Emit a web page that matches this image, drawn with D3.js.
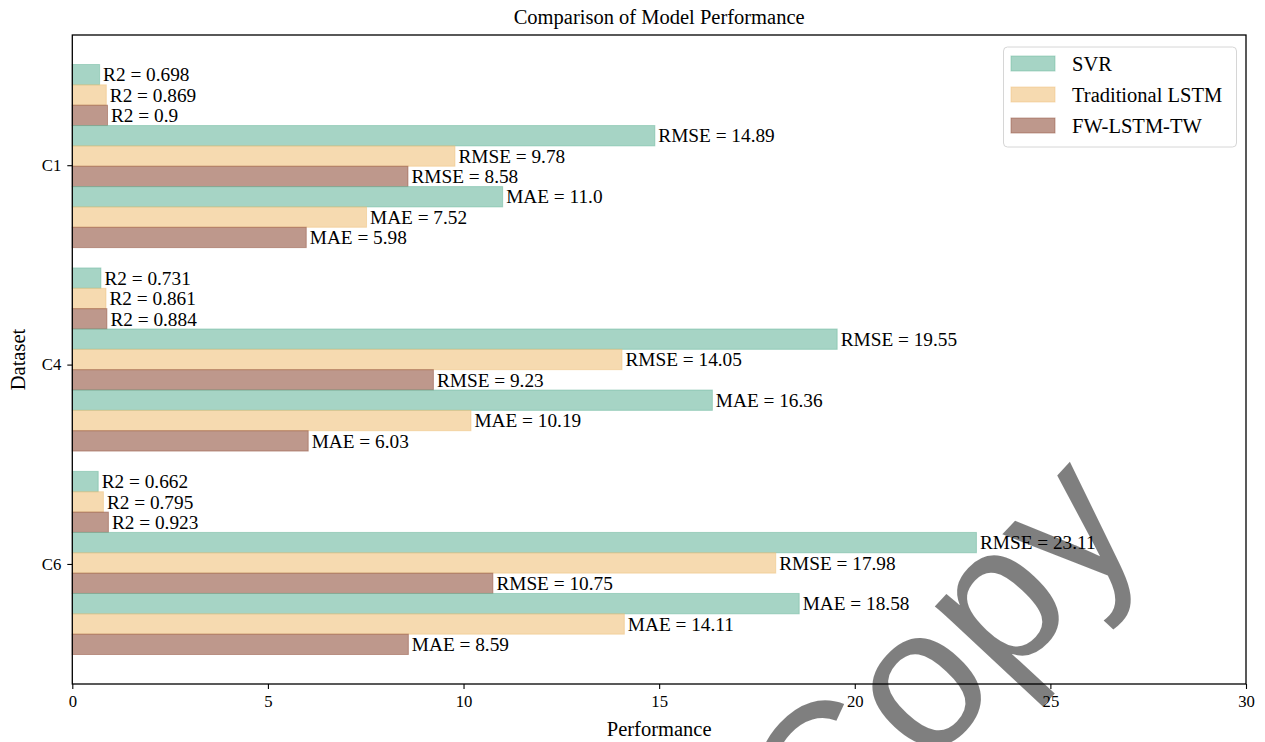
<!DOCTYPE html>
<html>
<head>
<meta charset="utf-8">
<script src="https://cdn.jsdelivr.net/npm/d3@7"></script>
<style>
  html, body { margin: 0; padding: 0; background: #fff; }
  svg { display: block; }
  text { font-family: "Liberation Serif", "Times New Roman", serif; fill: #000; }
</style>
</head>
<body>
<svg id="chart" width="1265" height="742"></svg>
<script>
// ---- data ----
const datasets = ["C1", "C4", "C6"];
const datasetTickPos = [0.045, 1.025, 2.005];
const models = ["SVR", "Traditional LSTM", "FW-LSTM-TW"];
const metrics = ["R2", "RMSE", "MAE"];
const r2Values   = [[0.698, 0.869, 0.9],   [0.731, 0.861, 0.884], [0.662, 0.795, 0.923]];
const rmseValues = [[14.89, 9.78, 8.58],   [19.55, 14.05, 9.23],  [23.11, 17.98, 10.75]];
const maeValues  = [[11.0, 7.52, 5.98],    [16.36, 10.19, 6.03],  [18.58, 14.11, 8.59]];
const xTicks = [0, 5, 10, 15, 20, 25, 30];
const modelColors = ["#6bb79e", "#f0c27b", "#93533f"];

// ---- layout ----
const svg = d3.select("#chart");
const M = { left: 72.3, right: 1246, top: 35, bottom: 684 };
const x = d3.scaleLinear().domain([0, 30]).range([M.left, M.right]);
const y = d3.scaleLinear().domain([-0.595, 2.595]).range([M.top, M.bottom]);
const barH = 0.1;

const metricValues = [r2Values, rmseValues, maeValues];
const rows = [];
datasets.forEach((ds, i) => {
  metrics.forEach((m, j) => {
    models.forEach((mod, k) => {
      const n = j * 3 + k;
      rows.push({ ds, i, metric: m, model: k, value: metricValues[j][i][k], pos: i + (n - 4) * barH });
    });
  });
});

const fmt = v => Number.isInteger(v) ? v.toFixed(1) : String(v);

// bars
svg.append("g").selectAll("rect").data(rows).join("rect")
  .attr("x", x(0))
  .attr("y", d => y(d.pos - barH / 2))
  .attr("width", d => x(d.value) - x(0))
  .attr("height", d => y(d.pos + barH / 2) - y(d.pos - barH / 2))
  .attr("fill", d => modelColors[d.model])
  .attr("fill-opacity", 0.6)
  .attr("stroke", d => modelColors[d.model])
  .attr("stroke-opacity", 0.5)
  .attr("stroke-width", 1);

// labels
const lg = svg.append("g");
rows.forEach(d => {
  lg.append("text")
    .attr("x", x(d.value) + 3.5)
    .attr("y", y(d.pos))
    .attr("dy", "0.35em")
    .style("font-size", "19.3px")
    .text(`${d.metric} = ${fmt(d.value)}`);
});

// axes frame
svg.append("rect")
  .attr("x", M.left).attr("y", M.top)
  .attr("width", M.right - M.left).attr("height", M.bottom - M.top)
  .attr("fill", "none").attr("stroke", "#000").attr("stroke-width", 1.3);

// x axis
const xAxis = d3.axisBottom(x).tickValues(xTicks).tickSize(5).tickPadding(6).tickFormat(d3.format("d"));
const gx = svg.append("g").attr("transform", `translate(0,${M.bottom})`).call(xAxis);
gx.select(".domain").remove();
gx.selectAll("line").attr("stroke", "#000").attr("stroke-width", 1.1);
gx.selectAll("text").style("font-family", "Liberation Serif").style("font-size", "16.7px").attr("fill", "#000");

// y axis
const yAxis = d3.axisLeft(y).tickValues(datasetTickPos).tickSize(5).tickPadding(6)
  .tickFormat((d, i) => datasets[i]);
const gy = svg.append("g").attr("transform", `translate(${M.left},0)`).call(yAxis);
gy.select(".domain").remove();
gy.selectAll("line").attr("stroke", "#000").attr("stroke-width", 1.1);
gy.selectAll("text").style("font-family", "Liberation Serif").style("font-size", "16.7px").attr("fill", "#000");

// title & axis labels
svg.append("text").attr("x", (M.left + M.right) / 2).attr("y", 17).attr("dy", "0.35em")
  .attr("text-anchor", "middle").style("font-size", "20.5px").text("Comparison of Model Performance");
svg.append("text").attr("x", (M.left + M.right) / 2).attr("y", 729).attr("dy", "0.35em")
  .attr("text-anchor", "middle").style("font-size", "20.5px").text("Performance");
svg.append("text").attr("transform", `translate(18,${(M.top + M.bottom) / 2}) rotate(-90)`).attr("dy", "0.35em")
  .attr("text-anchor", "middle").style("font-size", "20.5px").text("Dataset");

// legend
const leg = svg.append("g");
leg.append("rect").attr("x", 1003.5).attr("y", 47).attr("width", 233).attr("height", 100)
  .attr("rx", 4).attr("fill", "#fff").attr("fill-opacity", 0.8).attr("stroke", "#d6d6d6").attr("stroke-width", 1);
models.forEach((m, k) => {
  const cy = 63.5 + k * 31;
  leg.append("rect").attr("x", 1011).attr("y", cy - 7.5).attr("width", 44).attr("height", 15)
    .attr("fill", modelColors[k]).attr("fill-opacity", 0.6)
    .attr("stroke", modelColors[k]).attr("stroke-opacity", 0.5);
  leg.append("text").attr("x", 1072).attr("y", cy).attr("dy", "0.35em")
    .style("font-size", "20.5px").text(m);
});

// watermark
svg.append("text")
  .attr("transform", "translate(829,875) rotate(-47)")
  .style("font-family", "Liberation Sans, Arial, sans-serif")
  .style("font-size", "200px")
  .attr("fill", "#000").attr("fill-opacity", 0.5)
  .text("Copy");
</script>
</body>
</html>
